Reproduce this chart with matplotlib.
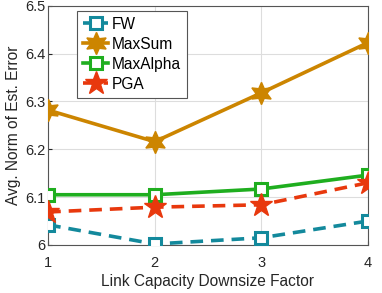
import matplotlib
matplotlib.use('Agg')
import matplotlib.pyplot as plt

plt.rcParams['font.family'] = ['Liberation Sans', 'DejaVu Sans']

# data
factor = [1, 2, 3, 4]
fw = [6.042, 6.002, 6.015, 6.050]
maxsum = [6.282, 6.216, 6.318, 6.423]
maxalpha = [6.105, 6.105, 6.117, 6.146]
pga = [6.069, 6.079, 6.084, 6.130]

fig = plt.figure(figsize=(3.82, 2.93), dpi=100)
ax = fig.add_axes([0.126, 0.164, 0.837, 0.816])

ax.plot(factor, fw, color='#13899c', linestyle=(0, (3.5, 2.2)), linewidth=2.6,
        marker='s', markersize=9, markerfacecolor='white', markeredgewidth=2.2,
        label='FW', zorder=3)
ax.plot(factor, maxsum, color='#cc8500', linestyle='-', linewidth=2.6,
        marker=(6, 1, 0), markersize=16, label='MaxSum', zorder=3)
ax.plot(factor, maxalpha, color='#1fae1f', linestyle='-', linewidth=2.6,
        marker='s', markersize=9, markerfacecolor='white', markeredgewidth=2.2,
        label='MaxAlpha', zorder=4)
ax.plot(factor, pga, color='#e8380d', linestyle=(0, (3.5, 2.2)), linewidth=2.6,
        marker='*', markersize=17, label='PGA', zorder=5)

ax.set_xlim(1, 4)
ax.set_ylim(6, 6.5)
ax.set_xticks([1, 2, 3, 4])
ax.set_yticks([6, 6.1, 6.2, 6.3, 6.4, 6.5])
ax.set_yticklabels(['6', '6.1', '6.2', '6.3', '6.4', '6.5'])
ax.tick_params(labelsize=10.5, colors='#262626', direction='in', length=3)
ax.tick_params(axis='x', pad=8)
ax.tick_params(axis='y', pad=2)
ax.grid(True, color='#dddddd', linewidth=0.8)
for s in ax.spines.values():
    s.set_color('#555555')

ax.set_xlabel('Link Capacity Downsize Factor', fontsize=11.2, color='#262626',
              labelpad=3)
ax.set_ylabel('Avg. Norm of Est. Error', fontsize=11.2, color='#262626',
              labelpad=3)

leg = ax.legend(loc='upper left', bbox_to_anchor=(0.09, 0.98), fontsize=11.2,
                handlelength=1.6, borderpad=0.4, labelspacing=0.32,
                handletextpad=0.25, borderaxespad=0, fancybox=False,
                framealpha=1)
leg.get_frame().set_edgecolor('#555555')
leg.get_frame().set_linewidth(0.8)

fig.savefig('out.png', dpi=100)
